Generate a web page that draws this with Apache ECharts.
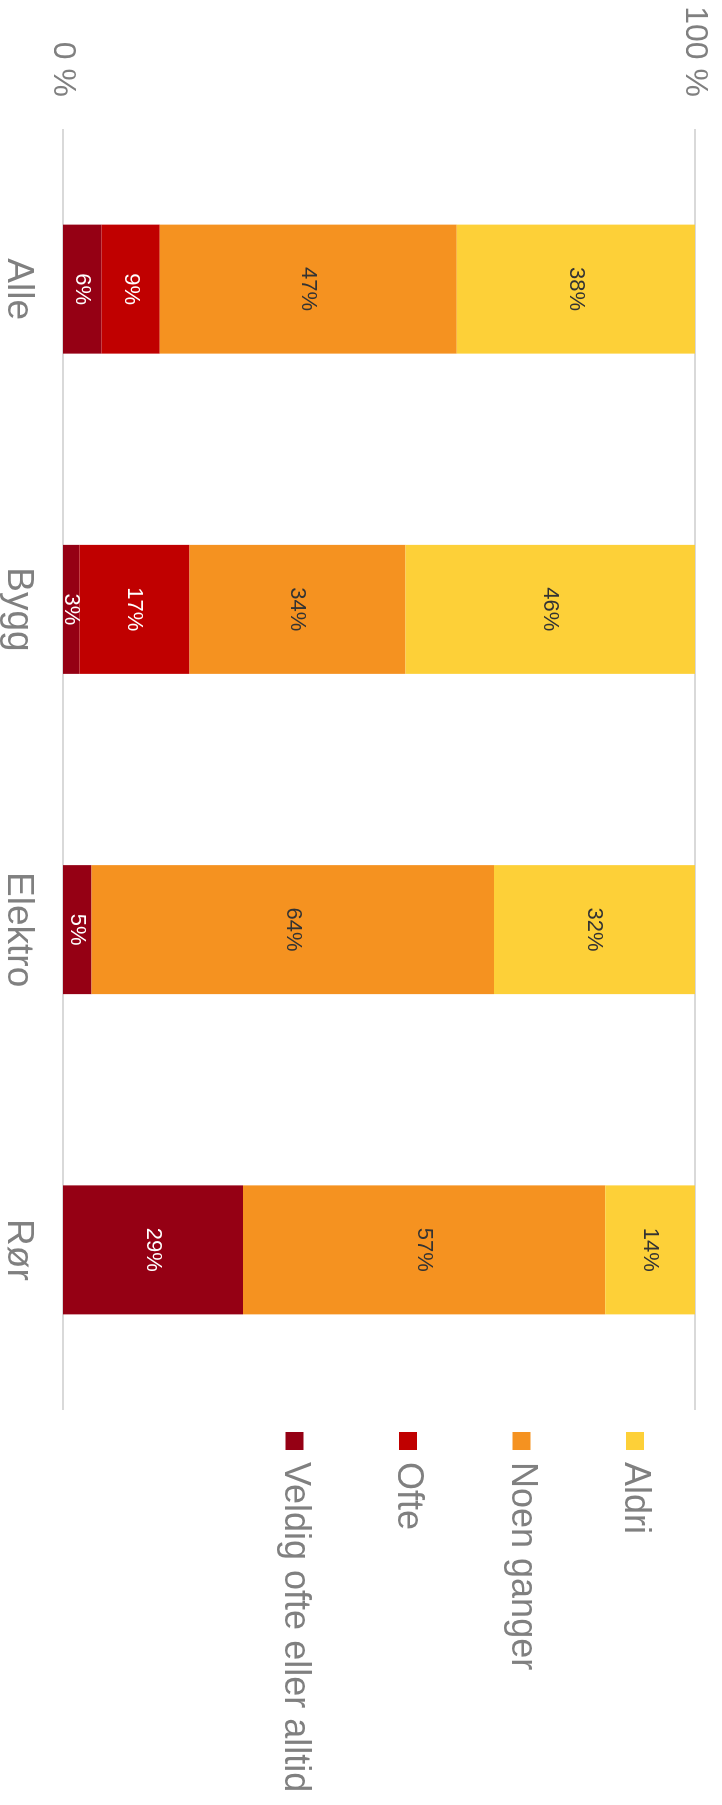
<!DOCTYPE html>
<html>
<head>
<meta charset="utf-8">
<script src="https://cdn.jsdelivr.net/npm/echarts@6/dist/echarts.min.js"></script>
<style>
  html, body { margin: 0; padding: 0; background: #fff; overflow: hidden; width: 722px; height: 1805px; }
  #chart {
    position: absolute; left: 0; top: 0;
    width: 1805px; height: 722px;
    transform-origin: 0 0;
    transform: translate(722px, 0) rotate(90deg);
  }
</style>
</head>
<body>
<div id="chart"></div>
<script>
// Data (percent shares per group)
const categories = ['Alle', 'Bygg', 'Elektro', 'Rør'];
const seriesNames = ['Veldig ofte eller alltid', 'Ofte', 'Noen ganger', 'Aldri'];
const veldigOfte = [6.1, 2.6, 4.5, 28.5];
const ofte = [9.2, 17.4, 0, 0];
const noenGanger = [47.0, 34.2, 63.7, 57.3];
const aldri = [37.7, 45.8, 31.8, 14.2];
const valueTicks = [0, 100];

const colors = ['#950014', '#C00000', '#F59220', '#FDD038'];
const labelColors = ['#ffffff', '#ffffff', '#333333', '#333333'];
const values = [veldigOfte, ofte, noenGanger, aldri];
const FONT = '"Liberation Sans", Arial, Helvetica, sans-serif';

const chart = echarts.init(document.getElementById('chart'), null, { renderer: 'canvas' });

const series = seriesNames.map((name, i) => ({
  name: name,
  type: 'bar',
  stack: 'total',
  barWidth: 129,
  data: values[i],
  itemStyle: { color: colors[i] },
  label: {
    show: true,
    position: 'inside',
    fontFamily: FONT,
    fontSize: 22,
    color: labelColors[i],
    formatter: p => (p.value > 0 ? Math.round(p.value) + '%' : '')
  },
  emphasis: { disabled: true }
}));

chart.setOption({
  animation: false,
  backgroundColor: '#ffffff',
  textStyle: { fontFamily: FONT },
  grid: { left: 129, right: 395, top: 27, bottom: 60, containLabel: false },
  legend: {
    orient: 'vertical',
    left: 1427,
    top: 62,
    itemWidth: 18,
    itemHeight: 18,
    itemGap: 73.5,
    icon: 'rect',
    data: seriesNames.slice().reverse(),
    textStyle: { fontFamily: FONT, fontSize: 36, color: '#808080', lineHeight: 40, padding: [0, 0, 0, 7] }
  },
  xAxis: {
    type: 'category',
    data: categories,
    axisLine: { show: false },
    axisTick: { show: false },
    axisLabel: { fontFamily: FONT, fontSize: 37, color: '#808080', margin: 26 }
  },
  yAxis: {
    type: 'value',
    min: valueTicks[0],
    max: valueTicks[valueTicks.length - 1],
    interval: 100,
    axisLine: { show: false },
    axisTick: { show: false },
    axisLabel: { fontFamily: FONT, fontSize: 32, color: '#808080', margin: 32, formatter: '{value} %' },
    splitLine: { show: true, lineStyle: { color: '#d9d9d9', width: 2 } }
  },
  series: series
});
</script>
</body>
</html>
